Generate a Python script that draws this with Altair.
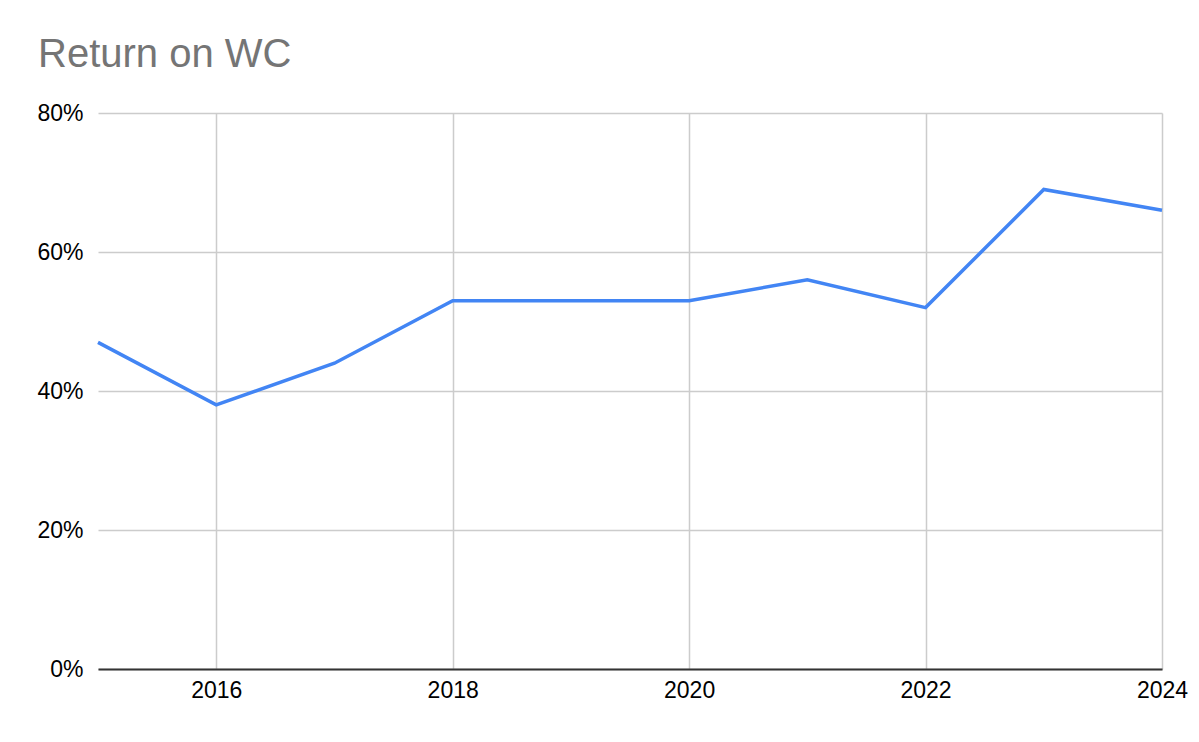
import altair as alt
import pandas as pd

years = [2015, 2016, 2017, 2018, 2019, 2020, 2021, 2022, 2023, 2024]
returns = [0.47, 0.38, 0.44, 0.53, 0.53, 0.53, 0.56, 0.52, 0.69, 0.66]
x_ticks = [2016, 2018, 2020, 2022, 2024]
y_ticks = [0, 0.2, 0.4, 0.6, 0.8]

df = pd.DataFrame({"year": years, "ret": returns})

font = "Liberation Sans"

chart = alt.Chart(df).mark_line(color="#4285F4", strokeWidth=3.5).encode(
    x=alt.X("year:Q", scale=alt.Scale(domain=[2015, 2024], nice=False, zero=False),
            axis=alt.Axis(values=x_ticks, format="d", title=None, labelFontSize=23,
                          labelFont=font, labelColor="#000000", grid=True,
                          gridColor="#cccccc", gridWidth=1.5, domainColor="#333333",
                          domainWidth=2, ticks=False, labelPadding=10,
                          labelFlush=False)),
    y=alt.Y("ret:Q", scale=alt.Scale(domain=[0, 0.8], nice=False),
            axis=alt.Axis(values=y_ticks, format=".0%", title=None, labelFontSize=23,
                          labelFont=font, labelColor="#000000", grid=True,
                          gridColor="#cccccc", gridWidth=1.5, domain=False,
                          ticks=False, labelPadding=15)),
).properties(
    width=1064,
    height=556,
    title=alt.TitleParams("Return on WC", anchor="start", frame="group", dx=-60,
                          fontSize=40, font=font, fontWeight="normal",
                          color="#757575", offset=27),
    padding={"left": 90, "top": 105, "right": 29, "bottom": 50},
    autosize=alt.AutoSizeParams(type="none"),
).configure_view(stroke=None)

chart.save("out.html", embed_options={"renderer": "svg", "actions": False})
